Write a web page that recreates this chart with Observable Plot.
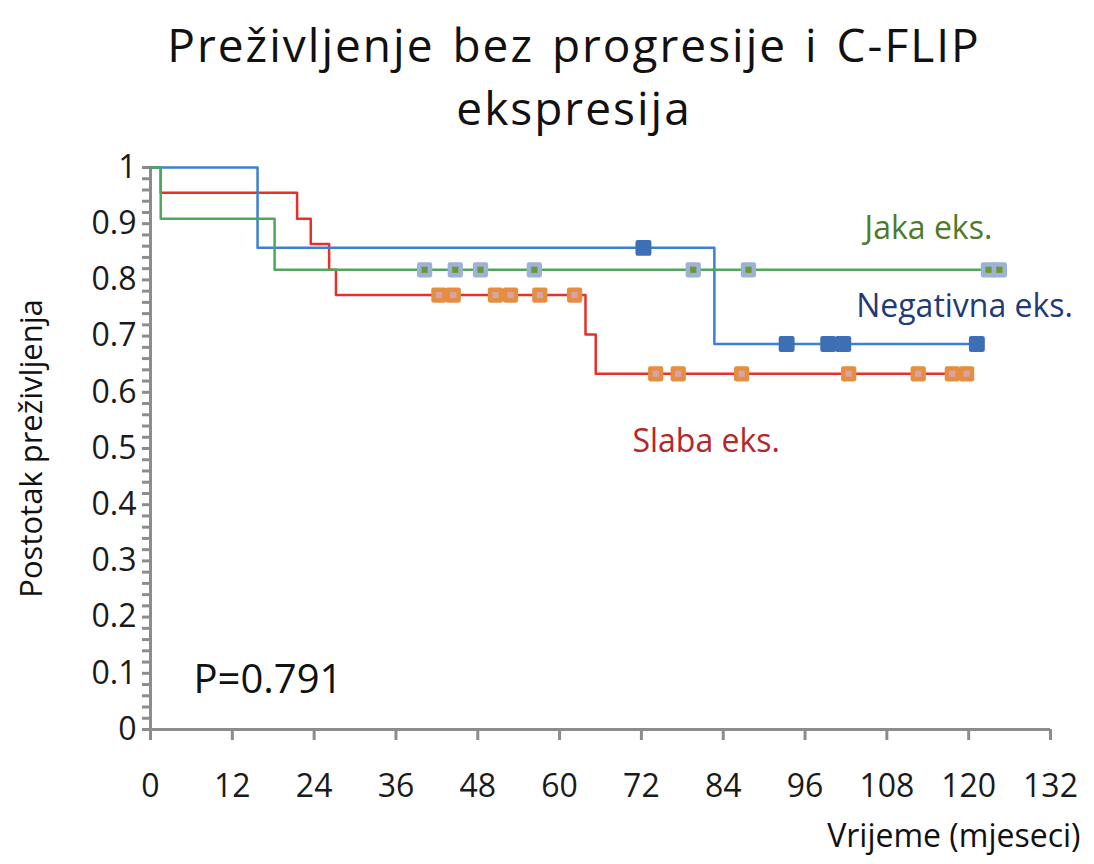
<!DOCTYPE html>
<html>
<head>
<meta charset="utf-8">
<script src="https://cdn.jsdelivr.net/npm/d3@7"></script>
<script src="https://cdn.jsdelivr.net/npm/@observablehq/plot@0.6"></script>
<style>
  html, body { margin: 0; padding: 0; background: #fff; }
  #wrap { width: 1094px; height: 864px; position: relative; overflow: hidden; }
  #title { box-sizing: border-box; height: 145px; padding-top: 13px; padding-left: 54px;
    font-family: "Open Sans", sans-serif; font-size: 46px; line-height: 63px; letter-spacing: 2px; word-spacing: 4px;
    text-align: center; color: #111; }
  #title div { height: 63px; }
  #chart svg { display: block; }
</style>
</head>
<body>
<div id="wrap">
  <div id="title"><div>Preživljenje bez progresije i C-FLIP</div><div>ekspresija</div></div>
  <div id="chart"></div>
</div>
<script>
// Negativna eks. (blue)
const negTimes = [0, 15.7, 82.7, 121.2];
const negSurv  = [1, 0.857, 0.686, 0.686];
const negCensT = [72.3, 93.3, 99.4, 101.6, 121.2];
const negCensS = [0.857, 0.686, 0.686, 0.686, 0.686];

// Jaka eks. (green)
const jakTimes = [0, 1.5, 18.2, 124.5];
const jakSurv  = [1, 0.909, 0.818, 0.818];
const jakCensT = [40.2, 44.7, 48.4, 56.3, 79.6, 87.7, 122.9, 124.5];
const jakCensS = [0.818, 0.818, 0.818, 0.818, 0.818, 0.818, 0.818, 0.818];

// Slaba eks. (red)
const slaTimes = [0, 1.5, 21.5, 23.5, 26.2, 27.2, 63.8, 65.3, 119.7];
const slaSurv  = [1, 0.955, 0.909, 0.864, 0.818, 0.773, 0.703, 0.633, 0.633];
const slaCensT = [42.3, 44.4, 50.6, 52.8, 57.1, 62.2, 74.1, 77.4, 86.7, 102.4, 112.6, 117.6, 119.7];
const slaCensS = [0.773, 0.773, 0.773, 0.773, 0.773, 0.773, 0.633, 0.633, 0.633, 0.633, 0.633, 0.633, 0.633];

const xTicks = [0, 12, 24, 36, 48, 60, 72, 84, 96, 108, 120, 132];
const yTicks = [0, 0.1, 0.2, 0.3, 0.4, 0.5, 0.6, 0.7, 0.8, 0.9, 1];
const yMinor = d3.range(0, 51).map(i => i / 50);

const seriesLabels = ["Jaka eks.", "Negativna eks.", "Slaba eks."];
const labelX = [114.1, 119.4, 81.5];
const labelY = [0.891, 0.753, 0.512];
const pText = "P=0.791";

const zip = (t, s) => t.map((d, i) => ({t: d, s: s[i]}));
const neg = zip(negTimes, negSurv), jak = zip(jakTimes, jakSurv), sla = zip(slaTimes, slaSurv);
const negC = zip(negCensT, negCensS), jakC = zip(jakCensT, jakCensS), slaC = zip(slaCensT, slaCensS);
const labels = seriesLabels.map((d, i) => ({text: d, x: labelX[i], y: labelY[i]}));

const roundSquare = {
  draw(ctx, size) {
    const s = Math.sqrt(size) / 2, r = s * 0.28;
    ctx.moveTo(-s + r, -s);
    ctx.lineTo(s - r, -s);
    ctx.arcTo(s, -s, s, -s + r, r);
    ctx.lineTo(s, s - r);
    ctx.arcTo(s, s, s - r, s, r);
    ctx.lineTo(-s + r, s);
    ctx.arcTo(-s, s, -s, s - r, r);
    ctx.lineTo(-s, -s + r);
    ctx.arcTo(-s, -s, -s + r, -s, r);
    ctx.closePath();
  }
};

const gray = "#8c8c8c";
const fmtY = d => d === 0 ? "0" : d === 1 ? "1" : d.toFixed(1);

const chart = Plot.plot({
  width: 1094,
  height: 719,
  marginTop: 22,
  marginBottom: 135,
  marginLeft: 150,
  marginRight: 44,
  x: {domain: [0, 132], axis: null},
  y: {domain: [0, 1], axis: null},
  style: {fontFamily: "'Open Sans', sans-serif", background: "white", overflow: "visible"},
  marks: [
    Plot.axisY({ticks: yMinor, tickSize: 8, tickFormat: () => "", stroke: gray, strokeWidth: 3, label: null}),
    Plot.axisY({ticks: yTicks, tickSize: 0, tickPadding: 14, tickFormat: fmtY, fontSize: 32, color: "#1a1a1a", label: null}),
    Plot.axisX({ticks: xTicks, tickSize: 11, tickPadding: 34, fontSize: 32, stroke: gray, strokeWidth: 3, color: "#1a1a1a", label: null}),
    Plot.ruleX([0], {y1: 0, y2: 1, stroke: gray, strokeWidth: 3}),
    Plot.ruleY([0], {x1: 0, x2: 132, stroke: gray, strokeWidth: 3}),
    Plot.line(sla, {x: "t", y: "s", curve: "step-after", stroke: "#e8302a", strokeWidth: 2.5}),
    Plot.line(neg, {x: "t", y: "s", curve: "step-after", stroke: "#3b80d2", strokeWidth: 2.5}),
    Plot.line(jak, {x: "t", y: "s", curve: "step-after", stroke: "#4fa85a", strokeWidth: 2.5}),
    Plot.dot(slaC, {x: "t", y: "s", symbol: roundSquare, r: 8.6, fill: "#e68e40"}),
    Plot.dot(slaC, {x: "t", y: "s", symbol: "square", r: 3.5, fill: "#d7a3ab"}),
    Plot.dot(jakC, {x: "t", y: "s", symbol: roundSquare, r: 8.6, fill: "#9db2d6"}),
    Plot.dot(jakC, {x: "t", y: "s", symbol: "square", r: 3.5, fill: "#6c982c"}),
    Plot.dot(negC, {x: "t", y: "s", symbol: roundSquare, r: 9, fill: "#3c6fb4"}),
    Plot.text(labels, {x: "x", y: "y", text: "text", fontSize: 32, textAnchor: "middle",
      fill: d => d.text.startsWith("Jaka") ? "#4f7a28" : d.text.startsWith("Neg") ? "#1f3a78" : "#b5262a"}),
    Plot.text([pText], {x: 6.3, y: 0.087, text: d => d, fontSize: 40, textAnchor: "start", fill: "#111"}),
    Plot.text(["Postotak preživljenja"], {frameAnchor: "left", dx: -118, rotate: -90, textAnchor: "middle", fontSize: 31, fill: "#111"}),
    Plot.text(["Vrijeme (mjeseci)"], {frameAnchor: "bottom-right", dx: 30, dy: 117, textAnchor: "end", fontSize: 32, fill: "#111"})
  ]
});
document.getElementById("chart").appendChild(chart);
</script>
</body>
</html>
